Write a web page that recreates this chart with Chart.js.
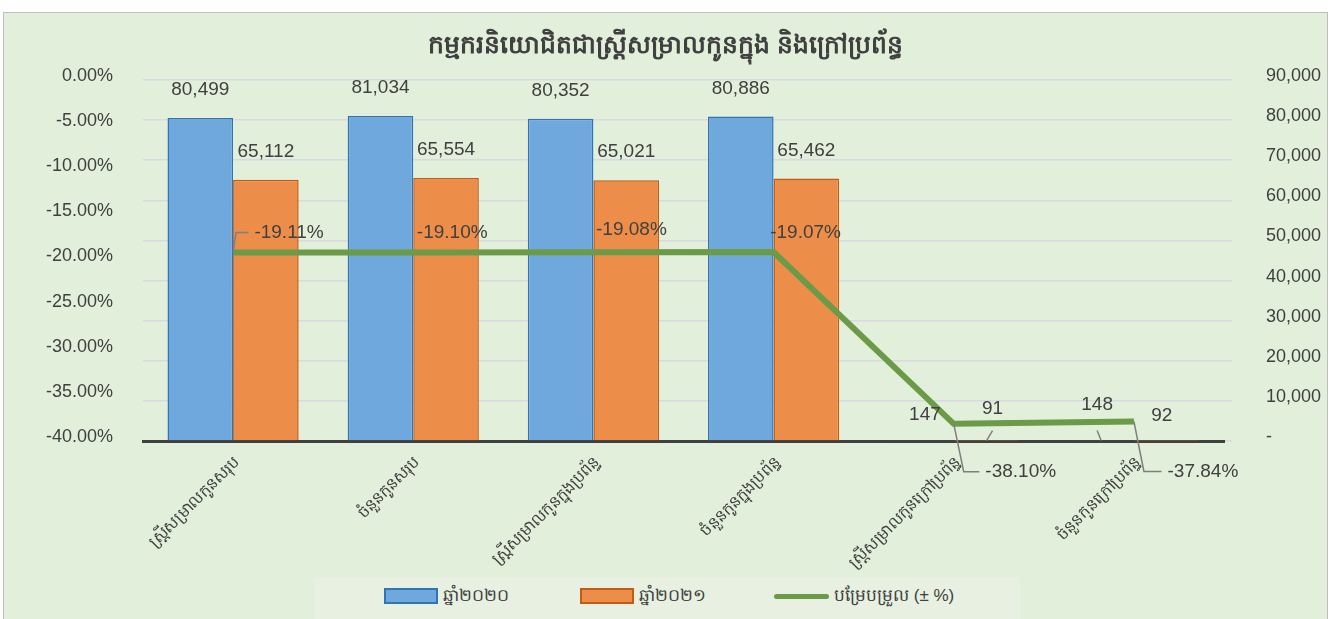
<!DOCTYPE html>
<html>
<head>
<meta charset="utf-8">
<title>កម្មករនិយោជិតជាស្ត្រីសម្រាលកូនក្នុង និងក្រៅប្រព័ន្ធ</title>
<script src="https://cdn.jsdelivr.net/npm/chart.js@4.4.1/dist/chart.umd.min.js"></script>
<style>
body{margin:0;background:#fff;width:1335px;height:619px;overflow:hidden;position:relative;font-family:"Liberation Sans",Arial,sans-serif}
#box{position:absolute;left:3px;top:12px;width:1325px;height:620px;box-sizing:border-box;border:1px solid #bfbfbf;background:#e2efda}
#wrap{position:relative;width:1323px;height:618px}
#legend{position:absolute;left:314px;top:577px;width:706px;height:50px;background:#e7f0e1;color:#404040;font-size:17px}
#legend .item{position:absolute;top:12px;display:flex;align-items:center;height:14px}
#legend .sw{width:50px;height:12px;margin-right:5px}
#legend .ln{width:55px;height:5px;border-radius:3px;margin-right:5px}
</style>
</head>
<body>

<div id="box">
<div id="wrap"><canvas id="chart"></canvas></div>
</div>

<div id="legend">
<div class="item" style="left:70px"><span class="sw" style="background:#6fa8dc;border:2px solid #2e75b6"></span><span id="lg0"></span></div>
<div class="item" style="left:266px"><span class="sw" style="background:#ed8d4a;border:2px solid #c55a11"></span><span id="lg1"></span></div>
<div class="item" style="left:460px"><span class="ln" style="background:#6b9a48"></span><span id="lg2"></span></div>
</div>

<script>
const title = "កម្មករនិយោជិតជាស្ត្រីសម្រាលកូនក្នុង និងក្រៅប្រព័ន្ធ"

const categories = [
"ស្ត្រីសម្រាលកូនសរុប",
"ចំនួនកូនសរុប",
"ស្ត្រីសម្រាលកូនក្នុងប្រព័ន្ធ",
"ចំនួនកូនក្នុងប្រព័ន្ធ",
"ស្ត្រីសម្រាលកូនក្រៅប្រព័ន្ធ",
"ចំនួនកូនក្រៅប្រព័ន្ធ"
]

const seriesNames = ["ឆ្នាំ២០២០", "ឆ្នាំ២០២១", "បម្រែបម្រួល (± %)"]

const year2020 = [80499, 81034, 80352, 80886, 147, 148]
const year2021 = [65112, 65554, 65021, 65462, 91, 92]
const change = [-19.11, -19.10, -19.08, -19.07, -38.10, -37.84]

const leftTicks = [0, -5, -10, -15, -20, -25, -30, -35, -40]
const rightTicks = [0, 10000, 20000, 30000, 40000, 50000, 60000, 70000, 80000, 90000]

// label nudges (px)
const shift2020 = [[0,-28],[0,-28],[0,-28],[0,-28],[4,-26],[-4,-36]]
const shift2021 = [[0,-28],[0,-28],[0,-28],[0,-28],[6,-32],[-5,-25]]
const shiftChange = [[56,-20],[39,-20],[38,-22],[32,-19],[67,48],[69,50]]
const changeLeader = [true,false,false,false,true,true]

for(let i=0;i<3;i++){
document.getElementById("lg"+i).innerText = seriesNames[i]
}

const textColor = "#404040"
const numFont = '"Liberation Sans", Arial, sans-serif'

const labelPlugin = {
id:"valueLabels",
afterDatasetsDraw(chart){
const ctx = chart.ctx
ctx.save()
ctx.font = "19px " + numFont
ctx.fillStyle = textColor
ctx.textAlign = "center"
ctx.textBaseline = "middle"

const shifts = [shift2020, shift2021]
for(let d=0; d<2; d++){
const meta = chart.getDatasetMeta(d)
const values = chart.data.datasets[d].data
meta.data.forEach(function(bar,i){
const s = shifts[d][i]
ctx.fillText(values[i].toLocaleString("en-US"), bar.x + s[0], bar.y + s[1])
// small leader to the tiny bars when label was pulled away
if(Math.abs(s[1]) > 30){
ctx.strokeStyle = "#7f7f7f"
ctx.lineWidth = 1.5
ctx.beginPath()
ctx.moveTo(bar.x + s[0], bar.y - 10)
ctx.lineTo(bar.x, bar.y)
ctx.stroke()
}
})
}

const lineMeta = chart.getDatasetMeta(2)
lineMeta.data.forEach(function(pt,i){
const s = shiftChange[i]
const text = change[i].toFixed(2) + "%"
const lx = pt.x + s[0]
const ly = pt.y + s[1]
ctx.fillStyle = textColor
ctx.fillText(text, lx, ly)
if(changeLeader[i]){
const w = ctx.measureText(text).width
ctx.strokeStyle = "#7f7f7f"
ctx.lineWidth = 1.5
ctx.beginPath()
ctx.moveTo(pt.x, pt.y)
ctx.lineTo(pt.x + (s[1] > 0 ? 10 : 3), ly)
ctx.lineTo(lx - w/2 - 6, ly)
ctx.stroke()
}
})

ctx.restore()
}
}

const ctx = document.getElementById("chart")

const chart = new Chart(ctx,{
type:"bar",
data:{
labels:categories,
datasets:[
{
label:seriesNames[0],
data:year2020,
yAxisID:"yR",
backgroundColor:"#6fa8dc",
borderColor:"#2e75b6",
borderWidth:1.5,
categoryPercentage:0.728,
barPercentage:1,
order:1
},
{
label:seriesNames[1],
data:year2021,
yAxisID:"yR",
backgroundColor:"#ed8d4a",
borderColor:"#c55a11",
borderWidth:1.5,
categoryPercentage:0.728,
barPercentage:1,
order:1
},
{
type:"line",
label:seriesNames[2],
data:change,
yAxisID:"yL",
borderColor:"#6b9a48",
borderWidth:6,
pointRadius:0,
tension:0,
order:0
}
]
},
options:{
responsive:true,
maintainAspectRatio:false,
animation:false,
layout:{padding:{left:0,right:0,top:0,bottom:54}},
plugins:{
legend:{display:false},
tooltip:{enabled:false},
title:{
display:true,
text:title,
color:textColor,
font:{size:25,weight:"bold",family:numFont,lineHeight:1.2},
padding:{top:18,bottom:19}
}
},
scales:{
x:{
grid:{display:false},
border:{display:true,color:"#404040",width:3},
ticks:{
color:textColor,
font:{size:16,family:numFont},
minRotation:45,
maxRotation:45,
autoSkip:false,
labelOffset:4,
padding:4
},
afterFit(scale){ scale.height = 136 }
},
yL:{
position:"left",
min:-40,
max:0,
grid:{display:false},
border:{display:false},
afterBuildTicks(scale){ scale.ticks = leftTicks.map(v => ({value:v})) },
ticks:{
color:textColor,
font:{size:18,family:numFont},
padding:22,
labelOffset:-4,
callback:v => v.toFixed(2) + "%"
},
afterFit(scale){ scale.width = 139 }
},
yR:{
position:"right",
min:0,
max:90000,
grid:{color:"#d9d9e1",lineWidth:1.5},
border:{display:false},
afterBuildTicks(scale){ scale.ticks = rightTicks.map(v => ({value:v})) },
ticks:{
color:textColor,
font:{size:18,family:numFont},
padding:34,
labelOffset:-4,
callback:v => v === 0 ? "-" : v.toLocaleString("en-US")
},
afterFit(scale){ scale.width = 103 }
}
}
},
plugins:[labelPlugin]
})
</script>
</body>
</html>
